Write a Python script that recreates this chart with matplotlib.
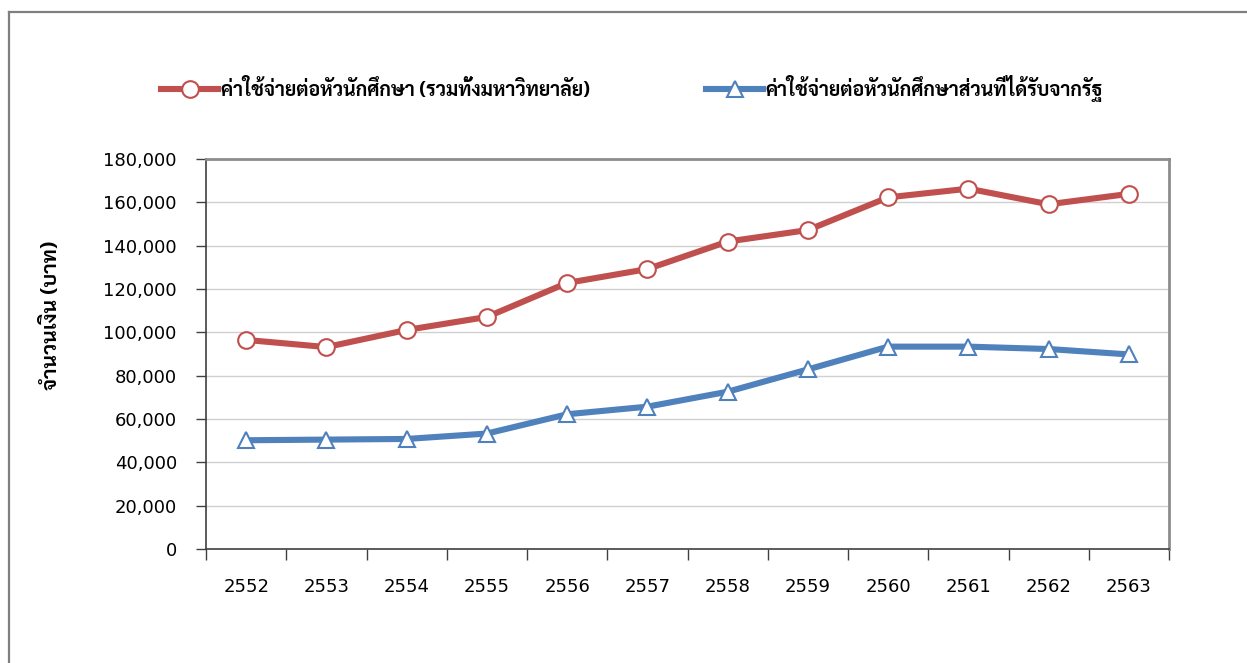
import matplotlib
matplotlib.use("Agg")
import matplotlib.pyplot as plt
from matplotlib.lines import Line2D
from matplotlib.ticker import FuncFormatter

THAI = ["Sarabun", "DejaVu Sans"]
plt.rcParams["font.family"] = ["DejaVu Sans"]

years = ["2552", "2553", "2554", "2555", "2556", "2557",
         "2558", "2559", "2560", "2561", "2562", "2563"]
cost_total = [96500, 93200, 101100, 107100, 122800, 129200,
              141900, 147200, 162300, 166300, 159100, 163900]
cost_state = [50200, 50500, 50800, 53300, 62200, 65700,
              72600, 82900, 93400, 93400, 92300, 89800]
label_total = "ค่าใช้จ่ายต่อหัวนักศึกษา (รวมทั้งมหาวิทยาลัย)"
label_state = "ค่าใช้จ่ายต่อหัวนักศึกษาส่วนที่ได้รับจากรัฐ"
ylabel = "จำนวนเงิน (บาท)"

RED = "#C0504D"
BLUE = "#4F81BD"

fig = plt.figure(figsize=(12.47, 6.63), dpi=100)
ax = fig.add_axes([0.1652, 0.1719, 0.9375 - 0.1652, 0.7602 - 0.1719])

x = list(range(len(years)))
ax.plot(x, cost_total, color=RED, lw=4.4, marker="o", ms=12,
        mfc="white", mec=RED, mew=1.5, label=label_total, zorder=3)
ax.plot(x, cost_state, color=BLUE, lw=4.4, marker="^", ms=12,
        mfc="white", mec=BLUE, mew=1.5, label=label_state, zorder=3)

ax.set_xlim(-0.5, len(years) - 0.5)
ax.set_ylim(0, 180000)
ax.set_yticks(range(0, 180001, 20000))
ax.yaxis.set_major_formatter(FuncFormatter(lambda v, p: f"{int(v):,}"))
ax.set_xticks(x)
ax.set_xticklabels(years)
ax.set_xticks([i - 0.5 for i in range(len(years) + 1)], minor=True)
ax.tick_params(axis="x", which="major", length=0, pad=21, labelsize=13)
ax.tick_params(axis="x", which="minor", length=8, width=1, color="#404040")
ax.tick_params(axis="y", length=7, width=1, color="#404040", pad=14, labelsize=13)

ax.grid(axis="y", color="#D0D0D0", lw=1)
ax.set_axisbelow(True)
for s in ["top", "right"]:
    ax.spines[s].set_color("#8C8C8C")
    ax.spines[s].set_linewidth(2)
for s in ["left", "bottom"]:
    ax.spines[s].set_color("#404040")
    ax.spines[s].set_linewidth(1.2)

ax.set_ylabel(ylabel, family=THAI, fontweight="bold", fontsize=15)
ax.yaxis.set_label_coords(-0.15, 0.6)

fig.legend(loc="center", bbox_to_anchor=(0.507, 0.866), ncol=2, frameon=False,
           prop={"family": THAI, "weight": "bold", "size": 14},
           handlelength=2.9, handletextpad=0.15, columnspacing=6.0)

# outer chart frame
fig.add_artist(Line2D([9 / 1247, 9 / 1247], [0, 1 - 12 / 663], transform=fig.transFigure,
                      color="#7F7F7F", lw=1.6))
fig.add_artist(Line2D([9 / 1247, 1], [1 - 12 / 663, 1 - 12 / 663], transform=fig.transFigure,
                      color="#7F7F7F", lw=1.6))

fig.savefig("out.png", dpi=100)
